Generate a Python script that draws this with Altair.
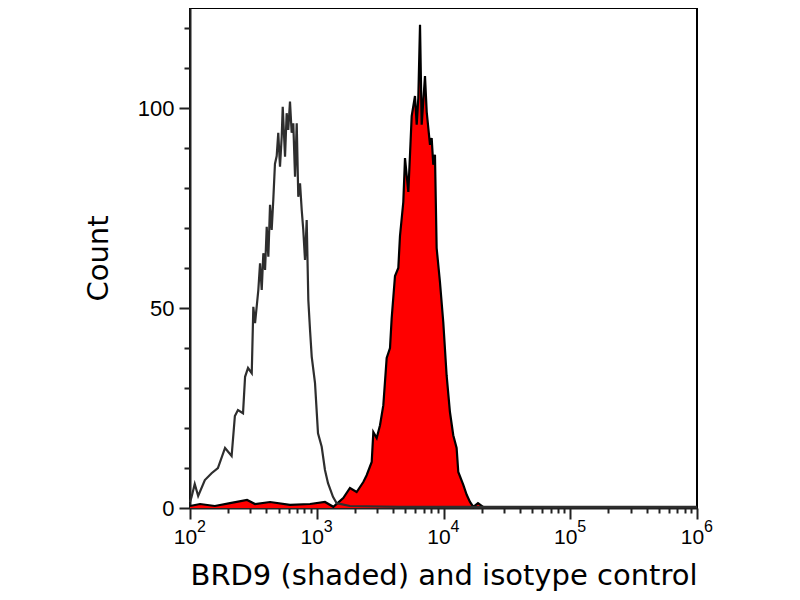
import altair as alt
import pandas as pd

# Isotype control (grey outline)
gray_x = [100, 103, 109, 116, 131, 148, 166, 189, 213, 226,
          239, 262, 272, 287, 307, 316, 326, 346, 357, 368,
          379, 391, 403, 415, 428, 441, 454, 468, 483, 497,
          513, 529, 539, 562, 579, 596, 615, 634, 653, 674,
          695, 715, 738, 761, 783, 808, 833, 858, 885, 913,
          969, 1023, 1094, 1161, 1227, 1343, 1436, 1828, 4540, 27900,
          1000000]
gray_y = [1.5, 2.8, 6, 3, 7, 8.7, 10, 15, 13, 23,
          24.5, 23.7, 32.8, 35, 33.7, 50.3, 46.2, 54.5, 61.2, 54.5,
          63.7, 59.5, 70.3, 62.8, 75.8, 69.5, 77, 86, 88, 93.8,
          85.3, 92.8, 100.3, 87.8, 98.7, 94.5, 101.6, 93.8, 96.2, 82.8,
          96.2, 77.8, 81.2, 74.5, 69.5, 62, 72, 52, 44.5, 37.8,
          31.2, 18.7, 15.3, 9.5, 6.2, 2.8, 1.2, 0.5, 0.3, 0.3,
          0.3]

# BRD9 (red shaded)
red_x = [100, 120, 157, 207, 282, 326, 428, 615, 885, 1161,
         1352, 1618, 1828, 2064, 2330, 2476, 2714, 2795, 2971, 3156,
         3352, 3562, 3784, 3901, 4143, 4400, 4536, 4818, 4969, 5277,
         5441, 5610, 5957, 6146, 6327, 6527, 6728, 7145, 7372, 7825,
         8067, 8305, 8563, 8828, 9376, 9957, 10580, 11240, 11940, 12690,
         13080, 14330, 15240, 16180, 17190, 18710, 20510]
red_y = [0.5, 1.0, 0.5, 1.2, 2, 1, 1.5, 0.8, 1.0, 1.5,
         0.3, 2.5, 5, 4, 6.5, 8.2, 11.5, 19, 17.5, 20.7,
         25.7, 37.5, 40, 47.5, 58, 60, 68, 76.5, 87.5, 79,
         88.3, 98, 103, 95.8, 102.5, 120.8, 95.8, 108, 99, 90.8,
         92.5, 85.8, 88.3, 65, 56.5, 46.5, 33.2, 24, 18.2, 15,
         9, 5.8, 3.3, 1.5, 0.3, 1.2, 0.3]

x_major = [100, 1000, 10000, 100000, 1000000]
x_minor = [200, 300, 400, 500, 600, 700, 800, 900,
           2000, 3000, 4000, 5000, 6000, 7000, 8000, 9000,
           20000, 30000, 40000, 50000, 60000, 70000, 80000, 90000,
           200000, 300000, 400000, 500000, 600000, 700000, 800000, 900000]
y_major = [0, 50, 100]
y_minor = [10, 20, 30, 40, 60, 70, 80, 90, 110, 120]

gray_df = pd.DataFrame({"x": gray_x, "y": gray_y})
red_df = pd.DataFrame({"x": red_x, "y": red_y})

TITLE_FONT = "DejaVu Sans"
LABEL_FONT = "Liberation Sans"
xscale = alt.Scale(type="log", domain=[100, 1000000], nice=False)
yscale = alt.Scale(domain=[0, 125], nice=False, zero=True)

exp_expr = "format(log(datum.value) / log(10), '.0f')"

x_axis_major = alt.Axis(values=x_major, labelExpr="'10'", title="BRD9 (shaded) and isotype control",
                        orient="bottom", tickSize=11, labelPadding=7, labelOffset=-5, labelFlush=False,
                        labelFontSize=21, titlePadding=14, grid=False)
y_axis_major = alt.Axis(values=y_major, title="Count", orient="left", tickSize=11,
                        labelFontSize=22, labelPadding=5, titlePadding=24, grid=False)
x_axis_minor = alt.Axis(values=x_minor, labels=False, title=None, orient="bottom",
                        tickSize=5, domain=False, grid=False)
y_axis_minor = alt.Axis(values=y_minor, labels=False, title=None, orient="left",
                        tickSize=6, domain=False, grid=False)
x_axis_sup = alt.Axis(values=x_major, labelExpr=exp_expr, title=None, orient="bottom",
                      ticks=False, tickSize=0, domain=False, grid=False, labelFlush=False,
                      labelFontSize=16, labelPadding=10, labelOffset=11)

area = alt.Chart(red_df).mark_area(color="#ff0000", opacity=1).encode(
    x=alt.X("x:Q", scale=xscale, axis=x_axis_major),
    y=alt.Y("y:Q", scale=yscale, axis=y_axis_major),
)
red_line = alt.Chart(red_df).mark_line(color="black", strokeWidth=2.2).encode(
    x=alt.X("x:Q", scale=xscale, axis=x_axis_minor),
    y=alt.Y("y:Q", scale=yscale, axis=y_axis_minor),
)
gray_line = alt.Chart(gray_df).mark_line(color="#2e2e2e", strokeWidth=2.2).encode(
    x=alt.X("x:Q", scale=xscale, axis=x_axis_sup),
    y=alt.Y("y:Q", scale=yscale, axis=None),
)

chart = alt.layer(area, red_line, gray_line).resolve_axis(
    x="independent", y="independent"
).properties(
    width=507, height=500,
    padding={"left": 182, "top": 0, "right": 95, "bottom": 84},
    autosize=alt.AutoSizeParams(type="none"),
    background="white",
).configure_view(
    stroke="black", strokeWidth=2
).configure_axis(
    labelColor="black", labelFont=LABEL_FONT,
    titleFont=TITLE_FONT, titleFontSize=29, titleFontWeight="normal", titleColor="black",
    domainColor="#222222", domainWidth=2, tickColor="#222222", tickWidth=2,
)

chart.save("out.html", embed_options={"renderer": "svg", "actions": False})
